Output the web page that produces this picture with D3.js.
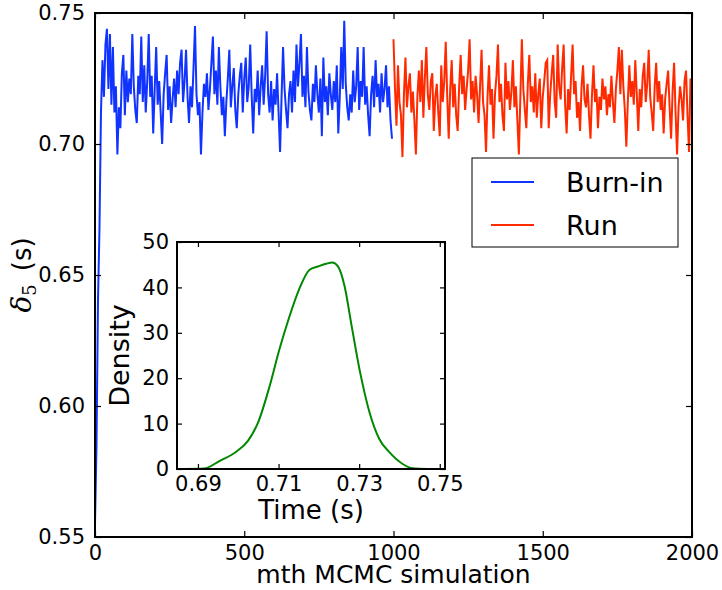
<!DOCTYPE html>
<meta charset="utf-8">
<style>
    body { margin: 0; background: #fff; }
    svg text { font-family: "DejaVu Sans", sans-serif; fill: #000; }
    .axis path, .axis line { stroke: #000; }
    .frame { fill: none; stroke: #000; stroke-width: 2; }
</style>
<body>
<script src="https://d3js.org/d3.v7.min.js"></script>
<script>
    // trace samples, one value every 5 iterations
    let step = 5;
    let burnIn = [
        0.555, 0.585, 0.640, 0.668, 0.712, 0.732, 0.718, 0.738, 0.744, 0.721,
        0.742, 0.715, 0.737, 0.712, 0.722, 0.696, 0.714, 0.706, 0.727, 0.734,
        0.711, 0.728, 0.716, 0.725, 0.719, 0.742, 0.722, 0.713, 0.708, 0.726,
        0.719, 0.741, 0.716, 0.730, 0.712, 0.724, 0.742, 0.718, 0.726, 0.704,
        0.721, 0.737, 0.715, 0.724, 0.712, 0.700, 0.719, 0.727, 0.734, 0.713,
        0.722, 0.708, 0.717, 0.725, 0.714, 0.728, 0.719, 0.731, 0.736, 0.716,
        0.724, 0.736, 0.718, 0.708, 0.722, 0.714, 0.729, 0.745, 0.719, 0.711,
        0.716, 0.696, 0.712, 0.723, 0.718, 0.727, 0.713, 0.721, 0.731, 0.741,
        0.719, 0.728, 0.715, 0.737, 0.722, 0.711, 0.718, 0.703, 0.716, 0.725,
        0.736, 0.714, 0.722, 0.729, 0.713, 0.706, 0.719, 0.726, 0.731, 0.712,
        0.725, 0.733, 0.716, 0.722, 0.738, 0.718, 0.704, 0.721, 0.716, 0.728,
        0.711, 0.722, 0.730, 0.715, 0.726, 0.743, 0.719, 0.712, 0.724, 0.709,
        0.721, 0.715, 0.727, 0.712, 0.697, 0.718, 0.737, 0.721, 0.713, 0.706,
        0.719, 0.724, 0.712, 0.728, 0.716, 0.738, 0.722, 0.731, 0.742, 0.718,
        0.726, 0.714, 0.737, 0.720, 0.713, 0.709, 0.723, 0.716, 0.730, 0.719,
        0.712, 0.725, 0.703, 0.733, 0.716, 0.722, 0.711, 0.727, 0.719, 0.713,
        0.724, 0.716, 0.730, 0.704, 0.718, 0.737, 0.721, 0.747, 0.723, 0.714,
        0.709, 0.719, 0.712, 0.728, 0.716, 0.722, 0.737, 0.713, 0.724, 0.718,
        0.737, 0.715, 0.722, 0.711, 0.703, 0.719, 0.726, 0.714, 0.732, 0.718,
        0.723, 0.712, 0.727, 0.716, 0.721, 0.730, 0.714, 0.722, 0.709, 0.702
    ];
    let run = [
        0.740, 0.721, 0.707, 0.730, 0.716, 0.711, 0.695, 0.719, 0.733, 0.714,
        0.722, 0.727, 0.712, 0.720, 0.709, 0.696, 0.718, 0.728, 0.716, 0.732,
        0.710, 0.725, 0.737, 0.719, 0.713, 0.724, 0.727, 0.705, 0.718, 0.723,
        0.712, 0.703, 0.730, 0.716, 0.724, 0.739, 0.718, 0.702, 0.721, 0.732,
        0.714, 0.723, 0.711, 0.705, 0.722, 0.734, 0.719, 0.726, 0.713, 0.721,
        0.728, 0.740, 0.717, 0.724, 0.712, 0.726, 0.719, 0.708, 0.722, 0.736,
        0.716, 0.711, 0.697, 0.718, 0.730, 0.715, 0.721, 0.702, 0.719, 0.726,
        0.738, 0.716, 0.723, 0.711, 0.705, 0.731, 0.717, 0.724, 0.713, 0.720,
        0.732, 0.714, 0.722, 0.709, 0.696, 0.718, 0.740, 0.721, 0.713, 0.706,
        0.723, 0.734, 0.716, 0.722, 0.712, 0.727, 0.710, 0.719, 0.725, 0.706,
        0.718, 0.724, 0.731, 0.732, 0.706, 0.719, 0.727, 0.734, 0.716, 0.710,
        0.738, 0.722, 0.717, 0.729, 0.738, 0.715, 0.704, 0.721, 0.713, 0.726,
        0.738, 0.719, 0.724, 0.710, 0.716, 0.705, 0.722, 0.730, 0.717, 0.714,
        0.723, 0.711, 0.702, 0.719, 0.730, 0.716, 0.721, 0.706, 0.718, 0.713,
        0.725, 0.717, 0.722, 0.711, 0.719, 0.714, 0.726, 0.716, 0.708, 0.721,
        0.728, 0.737, 0.719, 0.736, 0.722, 0.713, 0.699, 0.716, 0.730, 0.718,
        0.724, 0.715, 0.732, 0.719, 0.705, 0.721, 0.714, 0.726, 0.731, 0.716,
        0.723, 0.736, 0.718, 0.712, 0.705, 0.722, 0.731, 0.716, 0.724, 0.713,
        0.719, 0.704, 0.717, 0.723, 0.728, 0.714, 0.702, 0.720, 0.731, 0.712,
        0.696, 0.714, 0.722, 0.717, 0.709, 0.724, 0.728, 0.711, 0.697, 0.725
    ];

    // kernel density of the run samples (inset)
    let kdeTime = [0.6863, 0.6915, 0.6954, 0.6995, 0.7024, 0.7049, 0.7078, 0.7102, 0.7127, 0.7152,
        0.7177, 0.7198, 0.7218, 0.7233, 0.7247, 0.7264, 0.7280, 0.7301, 0.7326, 0.7350,
        0.7375, 0.7408, 0.7433, 0.7470];
    let kdeDensity = [0, 0.1, 1.8, 3.8, 6.2, 10.2, 18.3, 26.3, 33.6, 39.8,
        43.9, 44.6, 45.2, 45.5, 44.7, 40.2, 32.2, 21.9, 12.4, 6.6,
        3.7, 1.1, 0.15, 0];

    let xTicks = [0, 500, 1000, 1500, 2000];
    let yTicks = [0.55, 0.60, 0.65, 0.70, 0.75];
    let inXTicks = [0.69, 0.71, 0.73, 0.75];
    let inYTicks = [0, 10, 20, 30, 40, 50];

    let W = 722, H = 590;
    let pL = 95, pR = 692, pT = 13, pB = 537;

    let svg = d3.select("body").append("svg")
        .attr("width", W)
        .attr("height", H);

    let xScale = d3.scaleLinear().domain([0, 2000]).range([pL, pR]);
    let yScale = d3.scaleLinear().domain([0.55, 0.75]).range([pB, pT]);

    let line = d3.line()
        .x(function(d) { return xScale(d[0]); })
        .y(function(d) { return yScale(d[1]); });

    let burnData = burnIn.map(function(v, i) { return [i * step, v]; });
    let runData = run.map(function(v, i) { return [1000 + i * step, v]; });

    svg.append("path").datum(burnData)
        .attr("d", line).attr("fill", "none")
        .attr("stroke", "#1133ff").attr("stroke-width", 2);
    svg.append("path").datum(runData)
        .attr("d", line).attr("fill", "none")
        .attr("stroke", "#ff2a00").attr("stroke-width", 2);

    // axes with ticks pointing inward, matplotlib style
    function ticksInside(g) {
        g.select(".domain").remove();
        g.selectAll(".tick line").attr("stroke", "#000").attr("stroke-width", 1.2);
        g.selectAll(".tick text").style("font-size", "21px");
    }

    svg.append("g").attr("class", "axis")
        .attr("transform", "translate(0," + pB + ")")
        .call(d3.axisBottom(xScale).tickValues(xTicks).tickSizeInner(-6).tickSizeOuter(0).tickPadding(8).tickFormat(d3.format("d")))
        .call(ticksInside);
    svg.append("g").attr("class", "axis")
        .attr("transform", "translate(0," + pT + ")")
        .call(d3.axisTop(xScale).tickValues(xTicks).tickSizeInner(-6).tickSizeOuter(0).tickFormat(""))
        .call(ticksInside);
    svg.append("g").attr("class", "axis")
        .attr("transform", "translate(" + pL + ",0)")
        .call(d3.axisLeft(yScale).tickValues(yTicks).tickSizeInner(-6).tickSizeOuter(0).tickPadding(10).tickFormat(d3.format(".2f")))
        .call(ticksInside);
    svg.append("g").attr("class", "axis")
        .attr("transform", "translate(" + pR + ",0)")
        .call(d3.axisRight(yScale).tickValues(yTicks).tickSizeInner(-6).tickSizeOuter(0).tickFormat(""))
        .call(ticksInside);

    svg.append("rect").attr("class", "frame")
        .attr("x", pL).attr("y", pT)
        .attr("width", pR - pL).attr("height", pB - pT);

    svg.append("text")
        .attr("x", (pL + pR) / 2).attr("y", 583)
        .attr("text-anchor", "middle")
        .style("font-size", "25px")
        .text("mth MCMC simulation");

    let yl = svg.append("text")
        .attr("transform", "translate(31," + ((pT + pB) / 2) + ") rotate(-90)")
        .attr("text-anchor", "middle")
        .style("font-size", "26px");
    yl.append("tspan").style("font-family", "'DejaVu Serif', serif").style("font-style", "italic").style("font-size", "28px").text("δ");
    yl.append("tspan").attr("dy", 5).style("font-family", "'DejaVu Serif', serif").style("font-size", "18px").text("5");
    yl.append("tspan").attr("dy", -5).text("\u2002(s)");

    // legend
    let lg = svg.append("g");
    lg.append("rect").attr("x", 472).attr("y", 158).attr("width", 206).attr("height", 89)
        .attr("fill", "#fff").attr("stroke", "#000").attr("stroke-width", 1);
    [["Burn-in", "#1133ff", 182], ["Run", "#ff2a00", 225]].forEach(function(e) {
        lg.append("line").attr("x1", 491).attr("x2", 534).attr("y1", e[2]).attr("y2", e[2])
            .attr("stroke", e[1]).attr("stroke-width", 2);
        lg.append("text").attr("x", 566).attr("y", e[2] + 10)
            .style("font-size", "27px").text(e[0]);
    });

    // inset density plot
    let iL = 177, iR = 445, iT = 242, iB = 469;
    let ix = d3.scaleLinear().domain([0.6848, 0.7513]).range([iL, iR]);
    let iy = d3.scaleLinear().domain([0, 50]).range([iB, iT]);

    svg.append("rect").attr("x", iL).attr("y", iT).attr("width", iR - iL).attr("height", iB - iT)
        .attr("fill", "#fff");

    let kde = kdeTime.map(function(t, i) { return [t, kdeDensity[i]]; });
    svg.append("path").datum(kde)
        .attr("d", d3.line().x(function(d) { return ix(d[0]); }).y(function(d) { return iy(d[1]); }).curve(d3.curveMonotoneX))
        .attr("fill", "none").attr("stroke", "#008800").attr("stroke-width", 2);

    svg.append("g").attr("class", "axis")
        .attr("transform", "translate(0," + iB + ")")
        .call(d3.axisBottom(ix).tickValues(inXTicks).tickSizeInner(-5).tickSizeOuter(0).tickPadding(7).tickFormat(d3.format(".2f")))
        .call(ticksInside);
    svg.append("g").attr("class", "axis")
        .attr("transform", "translate(0," + iT + ")")
        .call(d3.axisTop(ix).tickValues(inXTicks).tickSizeInner(-5).tickSizeOuter(0).tickFormat(""))
        .call(ticksInside);
    svg.append("g").attr("class", "axis")
        .attr("transform", "translate(" + iL + ",0)")
        .call(d3.axisLeft(iy).tickValues(inYTicks).tickSizeInner(-5).tickSizeOuter(0).tickPadding(8).tickFormat(d3.format("d")))
        .call(ticksInside);
    svg.append("g").attr("class", "axis")
        .attr("transform", "translate(" + iR + ",0)")
        .call(d3.axisRight(iy).tickValues(inYTicks).tickSizeInner(-5).tickSizeOuter(0).tickFormat(""))
        .call(ticksInside);

    svg.append("rect").attr("class", "frame")
        .attr("x", iL).attr("y", iT).attr("width", iR - iL).attr("height", iB - iT);

    svg.append("text")
        .attr("x", (iL + iR) / 2).attr("y", 519)
        .attr("text-anchor", "middle")
        .style("font-size", "26px")
        .text("Time (s)");
    svg.append("text")
        .attr("transform", "translate(129," + ((iT + iB) / 2) + ") rotate(-90)")
        .attr("text-anchor", "middle")
        .style("font-size", "27px")
        .text("Density");
</script>
</body>
